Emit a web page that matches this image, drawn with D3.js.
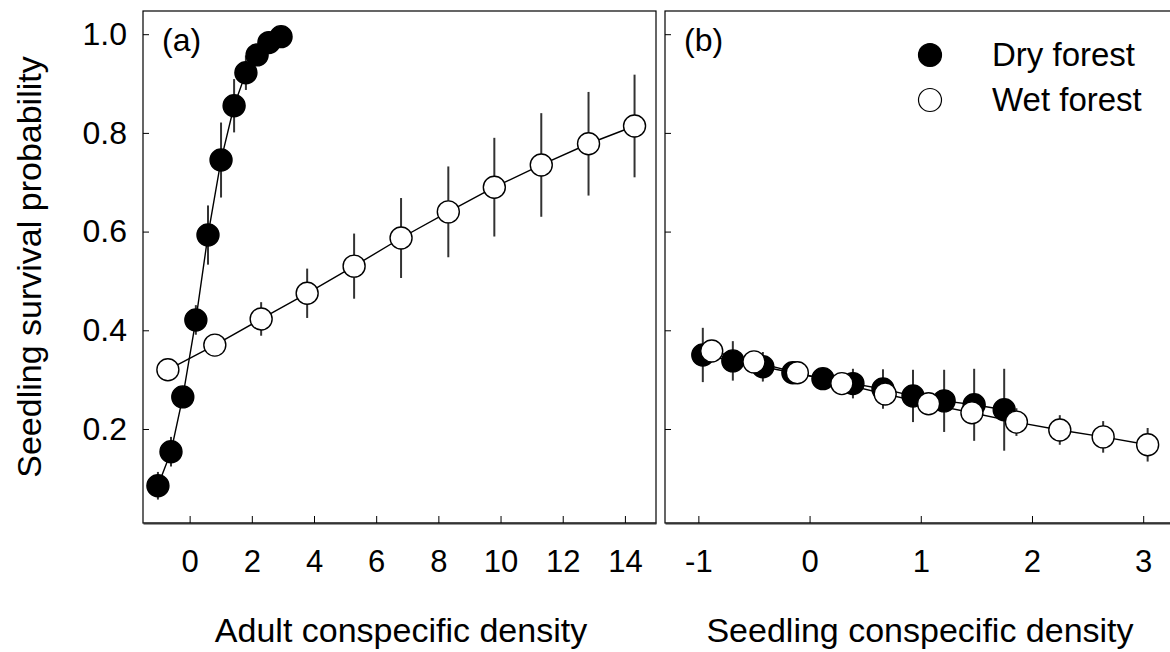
<!DOCTYPE html>
<html>
<head>
<meta charset="utf-8">
<title>Seedling survival probability</title>
<script src="https://d3js.org/d3.v7.min.js"></script>
<style>
  body { margin: 0; background: #fff; }
  svg text { font-family: "Liberation Sans", Arial, sans-serif; fill: #000; }
</style>
</head>
<body>
<svg id="chart" width="1170" height="652"></svg>
<script>
// ---- data ----
// panel (a): adult conspecific density
var adultDryX   = [-1.02, -0.60, -0.22, 0.20, 0.59, 1.01, 1.43, 1.81, 2.17, 2.55, 2.94];
var adultDryY   = [0.085, 0.154, 0.265, 0.421, 0.593, 0.745, 0.855, 0.922, 0.958, 0.983, 0.995];
var adultDryErr = [0.028, 0.030, 0.020, 0.030, 0.060, 0.076, 0.054, 0.035, 0.020, 0.010, 0.005];

var adultWetX   = [-0.70, 0.81, 2.30, 3.78, 5.29, 6.80, 8.32, 9.80, 11.31, 12.83, 14.31];
var adultWetY   = [0.320, 0.370, 0.423, 0.475, 0.530, 0.587, 0.640, 0.690, 0.735, 0.778, 0.814];
var adultWetErr = [0.010, 0.020, 0.034, 0.050, 0.066, 0.081, 0.092, 0.100, 0.105, 0.105, 0.104];

// panel (b): seedling conspecific density
var seedDryX   = [-0.96, -0.69, -0.42, -0.15, 0.12, 0.39, 0.66, 0.93, 1.21, 1.48, 1.75];
var seedDryY   = [0.350, 0.338, 0.326, 0.314, 0.302, 0.292, 0.281, 0.267, 0.257, 0.249, 0.239];
var seedDryErr = [0.055, 0.040, 0.030, 0.010, 0.012, 0.030, 0.040, 0.053, 0.063, 0.073, 0.083];

var seedWetX   = [-0.88, -0.50, -0.11, 0.29, 0.68, 1.07, 1.46, 1.86, 2.25, 2.64, 3.04];
var seedWetY   = [0.358, 0.336, 0.314, 0.292, 0.271, 0.251, 0.233, 0.214, 0.198, 0.184, 0.168];
var seedWetErr = [0.010, 0.010, 0.010, 0.010, 0.020, 0.015, 0.020, 0.028, 0.030, 0.032, 0.034];

var adultTicks = [0, 2, 4, 6, 8, 10, 12, 14];
var seedTicks  = [-1, 0, 1, 2, 3];
var yTicks     = [0.2, 0.4, 0.6, 0.8, 1.0];

var seriesNames = ["Dry forest", "Wet forest"];

// ---- layout ----
var svg = d3.select("#chart");
var plotTop = 11, plotBottom = 523;

var y = d3.scaleLinear().domain([0.0095, 1.047]).range([plotBottom, plotTop]);
var xa = d3.scaleLinear().domain([-1.5, 15]).range([143, 656]);
var xb = d3.scaleLinear().domain([-1.3, 3.25]).range([665, 1171]);

function zip(xs, ys, es) {
  return xs.map(function(d, i) { return { x: d, y: ys[i], e: es[i] }; });
}

// plain hyphen for negatives, like the original
function intLabel(d) { return String(d); }

function drawPanel(x, ticks, showY, label, dry, wet) {
  var g = svg.append("g");
  var x0 = x.range()[0], x1 = x.range()[1];

  // frame
  g.append("rect")
    .attr("x", x0).attr("y", plotTop)
    .attr("width", x1 - x0).attr("height", plotBottom - plotTop)
    .attr("fill", "none").attr("stroke", "#000").attr("stroke-width", 1.2);

  var xAxis = g.append("g")
    .attr("transform", "translate(0," + plotBottom + ")")
    .call(d3.axisBottom(x).tickValues(ticks)
      .tickSizeInner(-7).tickSizeOuter(0).tickPadding(27)
      .tickFormat(intLabel));
  xAxis.select(".domain").attr("stroke", "#333").attr("stroke-width", 1.8);
  xAxis.selectAll(".tick line").attr("stroke", "#000");
  xAxis.selectAll("text").attr("font-size", 31).attr("font-family", null);

  var yAxis = g.append("g")
    .attr("transform", "translate(" + x0 + ",0)")
    .call(d3.axisLeft(y).tickValues(yTicks)
      .tickSizeInner(-6).tickSizeOuter(0).tickPadding(16)
      .tickFormat(showY ? d3.format(".1f") : ""));
  yAxis.select(".domain").remove();
  yAxis.selectAll("text").attr("font-size", 32).attr("font-family", null);

  g.append("text")
    .attr("x", x0 + 19).attr("y", 51)
    .attr("font-size", 32)
    .text(label);

  var line = d3.line().x(function(d) { return x(d.x); }).y(function(d) { return y(d.y); });

  [dry, wet].forEach(function(data, k) {
    var s = g.append("g");
    s.selectAll("line.err").data(data).enter().append("line")
      .attr("class", "err")
      .attr("x1", function(d) { return x(d.x); })
      .attr("x2", function(d) { return x(d.x); })
      .attr("y1", function(d) { return y(d.y - d.e); })
      .attr("y2", function(d) { return y(d.y + d.e); })
      .attr("stroke", "#333").attr("stroke-width", 2);
    s.append("path").datum(data)
      .attr("d", line)
      .attr("fill", "none").attr("stroke", "#000").attr("stroke-width", 1.4);
    s.selectAll("circle").data(data).enter().append("circle")
      .attr("cx", function(d) { return x(d.x); })
      .attr("cy", function(d) { return y(d.y); })
      .attr("r", 11)
      .attr("fill", k === 0 ? "#000" : "#fff")
      .attr("stroke", "#000").attr("stroke-width", 1.4);
  });
}

drawPanel(xa, adultTicks, true, "(a)",
  zip(adultDryX, adultDryY, adultDryErr),
  zip(adultWetX, adultWetY, adultWetErr));
drawPanel(xb, seedTicks, false, "(b)",
  zip(seedDryX, seedDryY, seedDryErr),
  zip(seedWetX, seedWetY, seedWetErr));

// axis titles
svg.append("text")
  .attr("x", 401).attr("y", 642)
  .attr("text-anchor", "middle").attr("font-size", 34)
  .text("Adult conspecific density");
svg.append("text")
  .attr("x", 920).attr("y", 642)
  .attr("text-anchor", "middle").attr("font-size", 34)
  .text("Seedling conspecific density");
svg.append("text")
  .attr("transform", "translate(41," + ((plotTop + plotBottom) / 2) + ") rotate(-90)")
  .attr("text-anchor", "middle").attr("font-size", 34)
  .text("Seedling survival probability");

// legend
var legend = svg.append("g").attr("transform", "translate(930,55)");
seriesNames.forEach(function(name, i) {
  legend.append("circle")
    .attr("cx", 0).attr("cy", i * 45).attr("r", 11.5)
    .attr("fill", i === 0 ? "#000" : "#fff")
    .attr("stroke", "#000").attr("stroke-width", 1.2);
  legend.append("text")
    .attr("x", 62).attr("y", i * 45 + 11)
    .attr("font-size", 33)
    .text(name);
});
</script>
</body>
</html>
